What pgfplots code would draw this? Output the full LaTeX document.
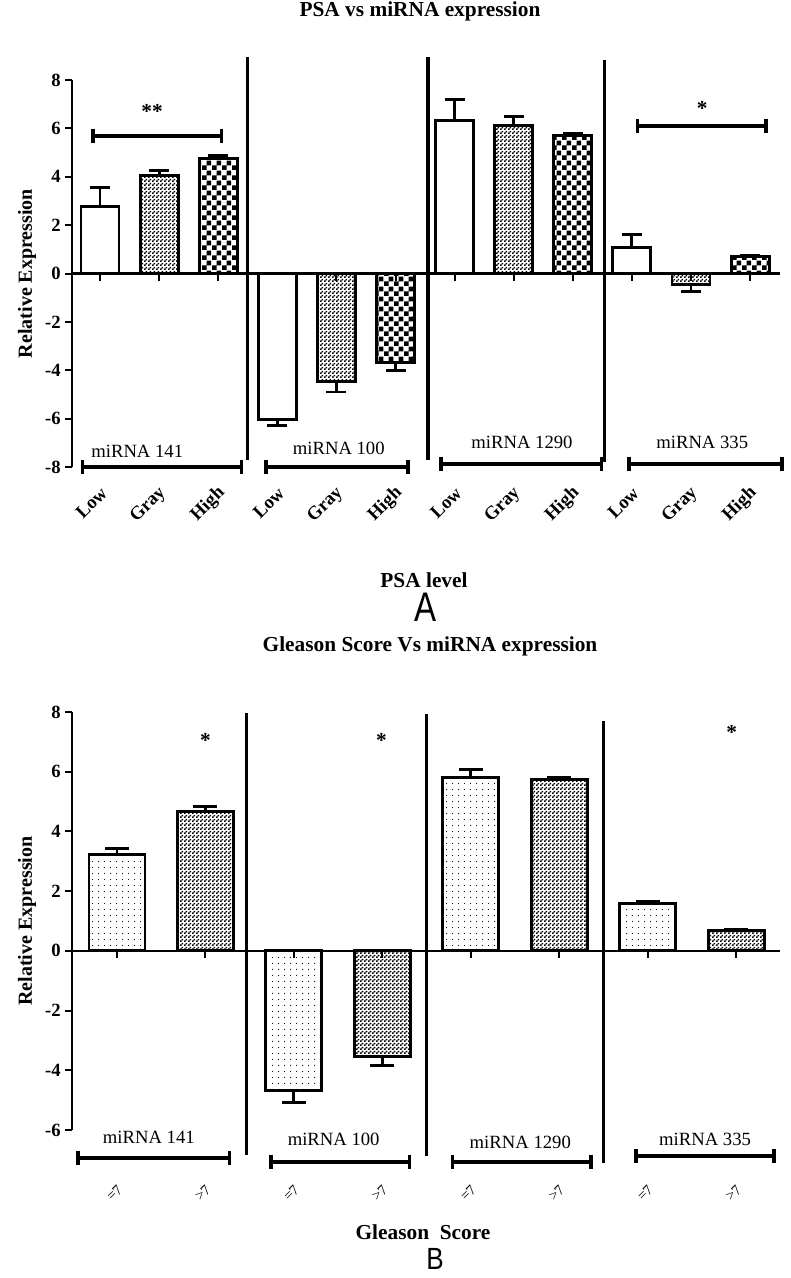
\documentclass[border=0pt]{standalone}
\usepackage{graphicx}
\usepackage{fontspec}
\setmainfont{Liberation Serif}
\newfontfamily\sansA{Liberation Sans}
\usepackage{pgfplots}
\pgfplotsset{compat=1.18}
\usetikzlibrary{patterns}

\pgfdeclarepatternformonly{finecheck}{\pgfqpoint{0pt}{0pt}}{\pgfqpoint{3pt}{3pt}}{\pgfqpoint{3pt}{3pt}}{%
\pgfpathrectangle{\pgfqpoint{0pt}{0pt}}{\pgfqpoint{1.5pt}{1.5pt}}%
\pgfpathrectangle{\pgfqpoint{1.5pt}{1.5pt}}{\pgfqpoint{1.5pt}{1.5pt}}%
\pgfusepath{fill}}
\pgfdeclarepatternformonly{coarsecheck}{\pgfqpoint{0pt}{0pt}}{\pgfqpoint{7.2pt}{7.2pt}}{\pgfqpoint{7.2pt}{7.2pt}}{%
\pgfpathrectangle{\pgfqpoint{0pt}{0pt}}{\pgfqpoint{3.6pt}{3.6pt}}%
\pgfpathrectangle{\pgfqpoint{3.6pt}{3.6pt}}{\pgfqpoint{3.6pt}{3.6pt}}%
\pgfusepath{fill}}
\pgfdeclarepatternformonly{sparsedots}{\pgfqpoint{0pt}{0pt}}{\pgfqpoint{4.5pt}{4.5pt}}{\pgfqpoint{4.5pt}{4.5pt}}{%
\pgfpathcircle{\pgfqpoint{2.25pt}{2.25pt}}{0.5pt}%
\pgfusepath{fill}}

\pgfplotsset{
  myaxis/.style={
    scale only axis, width=531pt,
    axis y line*=left, axis x line*=bottom,
    x axis line style={draw=none},
    xtick style={draw=none},
    y axis line style={line width=1.8pt},
    ytick style={line width=1.5pt, black},
    tick align=outside, major tick length=5pt,
    clip=false,
    yticklabel style={font=\bfseries\fontsize{14}{14}\selectfont},
    ylabel={Relative Expression},
    ylabel style={at={(axis description cs:-0.0636,0.5)}, anchor=center,
                  font=\bfseries\fontsize{15}{15}\selectfont},
  },
  barA/.style={ybar, bar shift=0pt, bar width=28.5pt, draw=black, line width=2.2pt},
  barB/.style={ybar, bar shift=0pt, bar width=42pt, draw=black, line width=2.2pt},
  errs/.style n args={2}{error bars/.cd, y dir=#1, y explicit, error mark=-,
    error bar style={line width=2.2pt, black, solid},
    error mark options={rotate=90, line width=2.2pt, black, mark size=#2, solid}},
  bracket/.style={black, line width=2.5pt, mark=|, mark size=5.5pt,
    mark options={line width=2.5pt}},
  sep/.style={black, line width=2.4pt, mark=none},
}

\begin{document}
\begin{tikzpicture}
\useasboundingbox (0,0) rectangle (593.25pt,-958.5pt);

% ---------------- Panel A ----------------
\begin{axis}[myaxis, at={(54pt,-350.25pt)}, anchor=south west,
  height=290.25pt,
  xmin=-0.474, xmax=11.506, ymin=-8, ymax=8,
  ytick={-8,-6,-4,-2,0,2,4,6,8},
  yticklabels={-8,-6,-4,-2,0,2,4,6,8},
  xtick={0,1,2,3,4,5,6,7,8,9,10,11},
  xticklabels={Low,Gray,High,Low,Gray,High,Low,Gray,High,Low,Gray,High},
  xticklabel style={xshift=3pt, yshift=-12.5pt, rotate=45, anchor=east, inner sep=0pt,
     font=\bfseries\fontsize{14}{14}\selectfont},
]
% zero line and its ticks
\addplot[black, line width=1.8pt, mark=none] coordinates {(-0.474,0) (11.506,0)};
\addplot[draw=none, mark=none, error bars/y dir=minus, error bars/y fixed=0.29,
  error bars/error mark=none, error bars/error bar style={draw=black, line width=1.5pt}]
  coordinates {(0,0)(1,0)(2,0)(3,0)(4,0)(5,0)(6,0)(7,0)(8,0)(9,0)(10,0)(11,0)};
% Low
\addplot[barA, fill=white, errs={plus}{7.5pt}] coordinates {
  (0,2.76) +- (0,0.79) (6,6.31) +- (0,0.89) (9,1.07) +- (0,0.53)};
\addplot[barA, fill=white, errs={minus}{7.5pt}] coordinates {
  (3,-6.02) +- (0,0.25)};
% Gray
\addplot[barA, pattern=finecheck, errs={plus}{7.5pt}] coordinates {
  (1,4.04) +- (0,0.21) (7,6.10) +- (0,0.40)};
\addplot[barA, pattern=finecheck, errs={minus}{7.5pt}] coordinates {
  (4,-4.45) +- (0,0.45) (10,-0.45) +- (0,0.30)};
% High
\addplot[barA, pattern=coarsecheck, errs={plus}{7.5pt}] coordinates {
  (2,4.74) +- (0,0.13) (8,5.69) +- (0,0.08) (11,0.70) +- (0,0.05)};
\addplot[barA, pattern=coarsecheck, errs={minus}{7.5pt}] coordinates {
  (5,-3.67) +- (0,0.33)};
% separators
\addplot[sep] coordinates {(2.5,8.95) (2.5,-7.71)};
\addplot[sep] coordinates {(5.55,8.95) (5.55,-7.71)};
\addplot[sep] coordinates {(8.53,8.83) (8.53,-7.79)};
% group brackets
\addplot[bracket] coordinates {(-0.30,-8.0) (2.39,-8.0)};
\addplot[bracket] coordinates {(2.81,-8.0) (5.21,-8.0)};
\addplot[bracket] coordinates {(5.77,-7.87) (8.49,-7.87)};
\addplot[bracket] coordinates {(8.95,-7.87) (11.54,-7.87)};
% significance brackets
\addplot[bracket] coordinates {(-0.12,5.69) (2.06,5.69)};
\addplot[bracket] coordinates {(9.09,6.10) (11.27,6.10)};
\node[font=\bfseries\fontsize{16}{16}\selectfont] at (axis cs:0.88,6.68) {**};
\node[font=\bfseries\fontsize{16}{16}\selectfont] at (axis cs:10.19,6.84) {*};
% group names
\node[font=\fontsize{14}{14}\selectfont] at (axis cs:0.63,-7.34) {miRNA 141};
\node[font=\fontsize{14}{14}\selectfont] at (axis cs:4.04,-7.25) {miRNA 100};
\node[font=\fontsize{14}{14}\selectfont] at (axis cs:7.14,-7.00) {miRNA 1290};
\node[font=\fontsize{14}{14}\selectfont] at (axis cs:10.19,-6.97) {miRNA 335};
\end{axis}

% ---------------- Panel B ----------------
\begin{axis}[myaxis, at={(54pt,-847.5pt)}, anchor=south west,
  height=313.5pt,
  xmin=-0.509, xmax=7.497, ymin=-6, ymax=8,
  ytick={-6,-4,-2,0,2,4,6,8},
  yticklabels={-6,-4,-2,0,2,4,6,8},
  xtick={0,1,2,3,4,5,6,7},
  xticklabels={=7,>7,=7,>7,=7,>7,=7,>7},
  xticklabel style={xshift=2.25pt, yshift=-38pt, rotate=45, anchor=east, inner sep=0pt,
     font=\fontsize{11}{11}\selectfont},
]
\addplot[black, line width=1.8pt, mark=none] coordinates {(-0.509,0) (7.497,0)};
\addplot[draw=none, mark=none, error bars/y dir=minus, error bars/y fixed=0.23,
  error bars/error mark=none, error bars/error bar style={draw=black, line width=1.5pt}]
  coordinates {(0,0)(1,0)(2,0)(3,0)(4,0)(5,0)(6,0)(7,0)};
% <=7
\addplot[barB, pattern=sparsedots, errs={plus}{9pt}] coordinates {
  (0,3.24) +- (0,0.20) (4,5.82) +- (0,0.27) (6,1.60) +- (0,0.07)};
\addplot[barB, pattern=sparsedots, errs={minus}{9pt}] coordinates {
  (2,-4.68) +- (0,0.41)};
% >7
\addplot[barB, pattern=finecheck, errs={plus}{9pt}] coordinates {
  (1,4.68) +- (0,0.17) (5,5.75) +- (0,0.07) (7,0.67) +- (0,0.06)};
\addplot[barB, pattern=finecheck, errs={minus}{9pt}] coordinates {
  (3,-3.55) +- (0,0.30)};
\addplot[sep] coordinates {(1.46,7.97) (1.46,-6.83)};
\addplot[sep] coordinates {(3.5,7.93) (3.5,-6.87)};
\addplot[sep] coordinates {(5.5,7.70) (5.5,-7.10)};
\addplot[bracket] coordinates {(-0.44,-6.94) (1.27,-6.94)};
\addplot[bracket] coordinates {(1.74,-7.07) (3.31,-7.07)};
\addplot[bracket] coordinates {(3.79,-7.07) (5.36,-7.07)};
\addplot[bracket] coordinates {(5.87,-6.87) (7.43,-6.87)};
\node[font=\bfseries\fontsize{16}{16}\selectfont] at (axis cs:1.0,7.06) {*};
\node[font=\bfseries\fontsize{16}{16}\selectfont] at (axis cs:2.99,7.06) {*};
\node[font=\bfseries\fontsize{16}{16}\selectfont] at (axis cs:6.95,7.33) {*};
\node[font=\fontsize{14}{14}\selectfont] at (axis cs:0.36,-6.23) {miRNA 141};
\node[font=\fontsize{14}{14}\selectfont] at (axis cs:2.45,-6.33) {miRNA 100};
\node[font=\fontsize{14}{14}\selectfont] at (axis cs:4.56,-6.43) {miRNA 1290};
\node[font=\fontsize{14}{14}\selectfont] at (axis cs:6.65,-6.33) {miRNA 335};
\end{axis}

% titles and captions
\node[anchor=base, font=\bfseries\fontsize{16}{16}\selectfont] at (315pt,-12pt) {PSA vs miRNA expression};
\node[anchor=base, font=\bfseries\fontsize{16}{16}\selectfont] at (318pt,-440.25pt) {PSA level};
\node[anchor=north, inner sep=0pt] at (319.5pt,-444.75pt) {\scalebox{0.8}[1]{\fontsize{31}{31}\selectfont\sansA A}};
\node[anchor=base, font=\bfseries\fontsize{16}{16}\selectfont] at (322.5pt,-488.25pt) {Gleason Score Vs miRNA expression};
\node[anchor=base, font=\bfseries\fontsize{16}{16}\selectfont] at (317.25pt,-929.25pt) {Gleason\ \ Score};
\node[anchor=north, inner sep=0pt] at (326.25pt,-936pt) {\scalebox{0.85}[1]{\fontsize{23}{23}\selectfont\sansA B}};
\end{tikzpicture}
\end{document}
